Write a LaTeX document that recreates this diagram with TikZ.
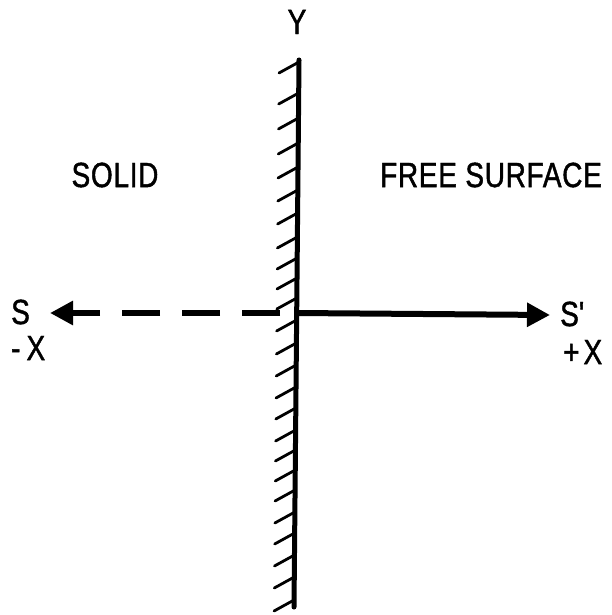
\documentclass[tikz,border=0pt]{standalone}
\usepackage{fontspec}
\setmainfont[FakeStretch=0.8,FakeBold=1.2,LetterSpace=2]{Liberation Sans}
\usetikzlibrary{arrows.meta}
\begin{document}
\begin{tikzpicture}[x=1pt,y=-1pt,
  lbl/.style={inner sep=0pt,font=\fontsize{35}{35}\selectfont},
  wall/.style={line width=5pt,line cap=round},
  hatch/.style={line width=2.8pt,line cap=round},
  axis/.style={line width=6pt,-{Triangle[length=23pt,width=23pt]}}]
\useasboundingbox (0,0) rectangle (612,615);
% wall
\coordinate (wt) at (299,60);
\coordinate (wb) at (294,607);
\draw[wall] (wt) -- (wb);
\foreach \y in {62,93,118,143,167,190,213,237,258,278,298,320,343,365,387,408,430,450,470,490,512,533,555,577,600}{
  \pgfmathsetmacro{\xx}{299-5*(\y-60)/547}
  \draw[hatch] (\xx,\y) -- ++(-20,11);
}
% labels
\node[lbl] (Y) at (297,22) {Y};
\node[lbl] (solid) at (115,175) {SOLID};
\node[lbl] (free) at (491,175) {FREE SURFACE};
\node[lbl,anchor=west] (S) at (11,312) {S};
\node[lbl,anchor=west] (mX) at (11,348) {-\hspace{6pt}X};
\node[lbl,anchor=west] (Sp) at (560,314) {S\textquotesingle};
\node[lbl,anchor=west] (pX) at (563,352) {+\hspace{4pt}X};
% axes
\coordinate (o) at (297,313);
\coordinate (ltip) at (50,313);
\coordinate (rtip) at (550,315);
\draw[axis] (o) -- (rtip);
\draw[axis,dash pattern=on 38pt off 22pt,dash phase=43pt] (o) -- (ltip);
\end{tikzpicture}
\end{document}
